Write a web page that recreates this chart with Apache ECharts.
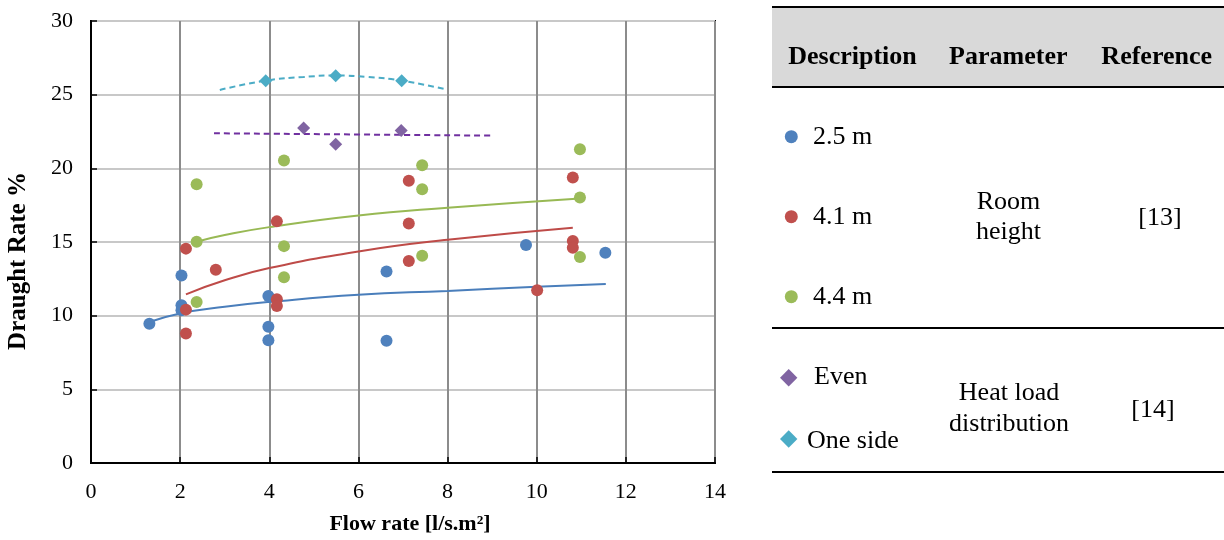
<!DOCTYPE html>
<html>
<head>
<meta charset="utf-8">
<script src="https://cdn.jsdelivr.net/npm/echarts@6/dist/echarts.min.js"></script>
<style>
html,body{margin:0;padding:0;background:#fff;}
#chart{width:1224px;height:540px;}
</style>
</head>
<body>
<div id="chart"></div>
<script>
// ---- data ----
const xTicks = [0, 2, 4, 6, 8, 10, 12, 14];
const yTicks = [0, 5, 10, 15, 20, 25, 30];

const h25 = [[1.31,9.45],[2.03,12.72],[2.03,10.7],[2.03,10.37],[3.98,11.33],[3.98,9.24],[3.98,8.33],[6.63,13.0],[6.63,8.29],[9.76,14.79],[11.54,14.27]];
const h41 = [[2.13,14.55],[2.13,10.41],[2.13,8.79],[2.80,13.12],[4.17,16.40],[4.17,11.11],[4.17,10.66],[7.13,19.15],[7.13,16.26],[7.13,13.71],[10.01,11.72],[10.81,19.38],[10.81,15.06],[10.81,14.61]];
const h44 = [[2.37,18.92],[2.37,15.02],[2.37,10.93],[4.33,20.53],[4.33,14.72],[4.33,12.60],[7.43,20.21],[7.43,18.58],[7.43,14.07],[10.97,21.30],[10.97,18.02],[10.97,13.98]];
const even = [[4.77,22.74],[5.49,21.63],[6.96,22.56]];
const oneSide = [[3.92,25.95],[5.49,26.29],[6.97,25.95]];

// trend lines
const trend25 = [[1.31,9.57],[2,10.15],[3,10.6],[4,10.93],[6,11.42],[8,11.68],[10,11.97],[11.55,12.15]];
const trend41 = [[2.13,11.45],[3,12.4],[4,13.23],[6,14.36],[8,15.15],[10.81,15.97]];
const trend44 = [[2.37,15.02],[3,15.47],[4,16.01],[6,16.8],[8,17.32],[10.97,17.95]];
const trendEven = [[2.76,22.38],[8.99,22.22]];
const trendOne = [[2.89,25.32],[3.92,25.95],[4.77,26.2],[5.49,26.3],[6.2,26.2],[6.97,25.95],[8.0,25.34]];

// texts
const xTitle = 'Flow rate [l/s.m²]';
const yTitle = 'Draught Rate %';
const tableHeader = ['Description', 'Parameter', 'Reference'];
const groupA = ['2.5 m', '4.1 m', '4.4 m'];
const groupB = ['Even', 'One side'];

const C = {blue:'#4f81bd', red:'#c0504d', green:'#9bbb59', purple:'#8064a2', cyan:'#4bacc6', purpleLine:'#7030a0'};
const FONT = '"Liberation Serif", "Times New Roman", serif';

const chart = echarts.init(document.getElementById('chart'), null, {renderer:'canvas'});

function scat(name, data, color, symbol, size){
  return {name, type:'scatter', data, symbol, symbolSize:size, itemStyle:{color, opacity:1}, z:5};
}
function trend(data, color, dashed){
  return {type:'line', data, smooth:true, showSymbol:false, symbol:'none', silent:true,
    lineStyle:{color, width:2, type: dashed ? [6,4] : 'solid'}, z:4};
}

const txt = (x, y, text, opts) => ({type:'text', x, y, silent:true,
  style:Object.assign({text, font:'26px ' + FONT, fill:'#000', textAlign:'left', textVerticalAlign:'middle'}, opts||{})});
const hline = (y, w) => ({type:'line', silent:true, shape:{x1:772, y1:y, x2:1224, y2:y}, style:{stroke:'#000', lineWidth:w||2}});

const graphics = [
  {type:'rect', silent:true, shape:{x:772, y:7, width:452, height:80}, style:{fill:'#d9d9d9'}},
  hline(7), hline(87), hline(328), hline(472),
  txt(852.5, 57, tableHeader[0], {textAlign:'center', font:'bold 26px ' + FONT}),
  txt(1008.3, 57, tableHeader[1], {textAlign:'center', font:'bold 26px ' + FONT}),
  txt(1156.7, 57, tableHeader[2], {textAlign:'center', font:'bold 26px ' + FONT}),
  {type:'circle', silent:true, shape:{cx:791.3, cy:136.7, r:6.5}, style:{fill:C.blue}},
  {type:'circle', silent:true, shape:{cx:791.3, cy:216.7, r:6.5}, style:{fill:C.red}},
  {type:'circle', silent:true, shape:{cx:791.3, cy:296.7, r:6.5}, style:{fill:C.green}},
  txt(813, 137, groupA[0]), txt(813, 217, groupA[1]), txt(813, 297, groupA[2]),
  txt(1008.5, 202, 'Room', {textAlign:'center'}),
  txt(1008.5, 232, 'height', {textAlign:'center'}),
  txt(1160, 218, '[13]', {textAlign:'center'}),
  {type:'polygon', silent:true, shape:{points:[[788.7,369],[797.4,377.7],[788.7,386.4],[780,377.7]]}, style:{fill:C.purple}},
  {type:'polygon', silent:true, shape:{points:[[788.7,430.3],[797.4,439],[788.7,447.7],[780,439]]}, style:{fill:C.cyan}},
  txt(814, 377, groupB[0]), txt(807, 441, groupB[1]),
  txt(1009, 393, 'Heat load', {textAlign:'center'}),
  txt(1009, 424, 'distribution', {textAlign:'center'}),
  txt(1153, 410, '[14]', {textAlign:'center'}),
  // y axis title
  {type:'text', x:19, y:261, rotation:Math.PI/2, silent:true,
    style:{text:yTitle, font:'bold 25px ' + FONT, fill:'#000', textAlign:'center', textVerticalAlign:'middle'}}
];

chart.setOption({
  backgroundColor:'#fff',
  animation:false,
  grid:{left:91, right:509, top:21, bottom:77, show:true, borderColor:'#000', borderWidth:2, backgroundColor:'transparent'},
  xAxis:{
    type:'value', min:xTicks[0], max:xTicks[xTicks.length-1], interval:xTicks[1]-xTicks[0],
    name:xTitle, nameLocation:'middle', nameGap:50,
    nameTextStyle:{fontFamily:FONT, fontWeight:'bold', fontSize:22, color:'#000', padding:[0,0,0,14]},
    axisLine:{show:true, onZero:false, lineStyle:{color:'#000', width:2}},
    axisTick:{show:true, inside:true, length:6, lineStyle:{color:'#000', width:1.5}},
    axisLabel:{fontFamily:FONT, fontSize:22, color:'#000', margin:18},
    splitLine:{show:true, lineStyle:{color:'#8c8c8c', width:2}}
  },
  yAxis:{
    type:'value', min:yTicks[0], max:yTicks[yTicks.length-1], interval:yTicks[1]-yTicks[0],
    axisLine:{show:true, onZero:false, lineStyle:{color:'#000', width:2}},
    axisTick:{show:true, inside:true, length:6, lineStyle:{color:'#000', width:1.5}},
    axisLabel:{fontFamily:FONT, fontSize:22, color:'#000', margin:18},
    splitLine:{show:true, lineStyle:{color:'#c8c8c8', width:2}}
  },
  series:[
    trend(trend25, '#4a7ebb'), trend(trend41, '#be4b48'), trend(trend44, '#98b954'),
    trend(trendEven, C.purpleLine, true), trend(trendOne, C.cyan, true),
    scat('2.5 m', h25, C.blue, 'circle', 12),
    scat('4.1 m', h41, C.red, 'circle', 12),
    scat('4.4 m', h44, C.green, 'circle', 12),
    scat('Even', even, C.purple, 'diamond', 13),
    scat('One side', oneSide, C.cyan, 'diamond', 13)
  ],
  graphic:graphics
});
</script>
</body>
</html>
